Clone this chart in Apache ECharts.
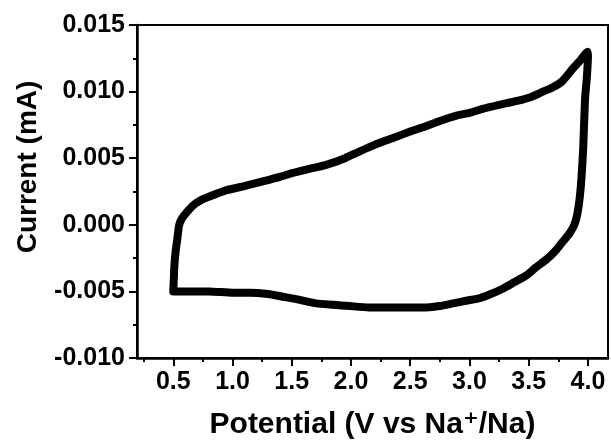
<!DOCTYPE html>
<html>
<head>
<meta charset="utf-8">
<script src="https://cdn.jsdelivr.net/npm/echarts@6/dist/echarts.min.js"></script>
<style>
html,body{margin:0;padding:0;background:#fff;}
#chart{width:611px;height:445px;}
</style>
</head>
<body>
<div id="chart"></div>
<script>
// Anodic (forward) scan: potential (V) and current (mA)
const forwardPotential = [0.50, 0.505, 0.51, 0.52, 0.535, 0.55, 0.575, 0.61, 0.66, 0.725, 0.80, 0.95, 1.10, 1.23, 1.40, 1.51, 1.65, 1.79, 1.95, 2.07, 2.20, 2.35, 2.50, 2.60, 2.75, 2.89, 3.00, 3.11, 3.25, 3.40, 3.52, 3.62, 3.70, 3.785, 3.87, 3.94, 3.995];
const forwardCurrent = [-0.0050, -0.0040, -0.0030, -0.0020, -0.0010, 0.0000, 0.0005, 0.0009, 0.0014, 0.0018, 0.0021, 0.0026, 0.0029, 0.0032, 0.0036, 0.0039, 0.0042, 0.0045, 0.0050, 0.0055, 0.0060, 0.0065, 0.0070, 0.0073, 0.0078, 0.0082, 0.0084, 0.0087, 0.0090, 0.0093, 0.0096, 0.0100, 0.0103, 0.0108, 0.0117, 0.0124, 0.0130];

// Cathodic (reverse) scan
const reversePotential = [4.00, 3.99, 3.975, 3.96, 3.945, 3.93, 3.91, 3.885, 3.84, 3.775, 3.72, 3.65, 3.56, 3.48, 3.38, 3.28, 3.18, 3.09, 2.97, 2.86, 2.75, 2.64, 2.50, 2.33, 2.15, 1.99, 1.85, 1.71, 1.55, 1.425, 1.30, 1.146, 1.00, 0.80, 0.60, 0.50];
const reverseCurrent = [0.0127, 0.0110, 0.0094, 0.0058, 0.0035, 0.0020, 0.0008, 0.0000, -0.0007, -0.0014, -0.0020, -0.0026, -0.0032, -0.0038, -0.0043, -0.0048, -0.0052, -0.0055, -0.0057, -0.0059, -0.0061, -0.0062, -0.0062, -0.0062, -0.0062, -0.0061, -0.0060, -0.0059, -0.0056, -0.0054, -0.0052, -0.0051, -0.0051, -0.0050, -0.0050, -0.0050];

// Axis ticks
const xTickValues = [0.5, 1.0, 1.5, 2.0, 2.5, 3.0, 3.5, 4.0];
const xMinorTickValues = [0.25, 0.75, 1.25, 1.75, 2.25, 2.75, 3.25, 3.75];
const xRange = [0.194, 4.169];
const yRange = [-0.010, 0.015];
const yInterval = 0.005;

const loop = [];
forwardPotential.forEach((p, i) => loop.push([p, forwardCurrent[i]]));
reversePotential.forEach((p, i) => loop.push([p, reverseCurrent[i]]));

const FONT = '"Liberation Sans", Arial, "DejaVu Sans", sans-serif';

const chart = echarts.init(document.getElementById('chart'), null, {renderer: 'canvas'});
chart.setOption({
  animation: false,
  backgroundColor: '#ffffff',
  grid: {
    left: 137, right: 3, top: 25, bottom: 81,
    show: true, borderColor: '#000', borderWidth: 2, backgroundColor: 'transparent'
  },
  xAxis: [{
    type: 'value',
    position: 'bottom',
    min: xRange[0], max: xRange[1],
    name: 'Potential (V vs Na\u207A/Na)',
    nameLocation: 'middle',
    nameGap: 52,
    nameTextStyle: {fontFamily: FONT, fontWeight: 'bold', fontSize: 30, color: '#000'},
    axisLine: {show: true, onZero: false, lineStyle: {color: '#000', width: 2.5}},
    axisTick: {show: true, inside: false, length: 8, customValues: xTickValues, lineStyle: {color: '#000', width: 2}},
    axisLabel: {show: true, customValues: xTickValues, margin: 12, fontFamily: FONT, fontWeight: 'bold', fontSize: 25, color: '#000',
      formatter: v => v.toFixed(1)},
    splitLine: {show: false}
  }, {
    type: 'value',
    position: 'bottom',
    min: xRange[0], max: xRange[1],
    axisLine: {show: false, onZero: false},
    axisTick: {show: true, inside: false, length: 4, customValues: xMinorTickValues, lineStyle: {color: '#000', width: 2}},
    axisLabel: {show: false},
    splitLine: {show: false}
  }],
  yAxis: {
    type: 'value',
    min: yRange[0], max: yRange[1], interval: yInterval,
    name: 'Current (mA)',
    nameLocation: 'middle',
    nameGap: 95,
    nameRotate: 90,
    nameTextStyle: {fontFamily: FONT, fontWeight: 'bold', fontSize: 28, color: '#000', padding: [0, 0, 0, 49]},
    axisLine: {show: true, onZero: false, lineStyle: {color: '#000', width: 2.5}},
    axisTick: {show: true, inside: false, length: 8, lineStyle: {color: '#000', width: 2}},
    minorTick: {show: true, splitNumber: 2, length: 4, lineStyle: {color: '#000', width: 2}},
    axisLabel: {margin: 12, fontFamily: FONT, fontWeight: 'bold', fontSize: 25, color: '#000',
      formatter: v => v.toFixed(3)},
    splitLine: {show: false},
    minorSplitLine: {show: false}
  },
  series: [{
    type: 'line',
    xAxisIndex: 0,
    data: loop,
    showSymbol: false,
    smooth: 0.2,
    clip: false,
    lineStyle: {color: '#000', width: 8, cap: 'round', join: 'round'}
  }]
});
</script>
</body>
</html>
